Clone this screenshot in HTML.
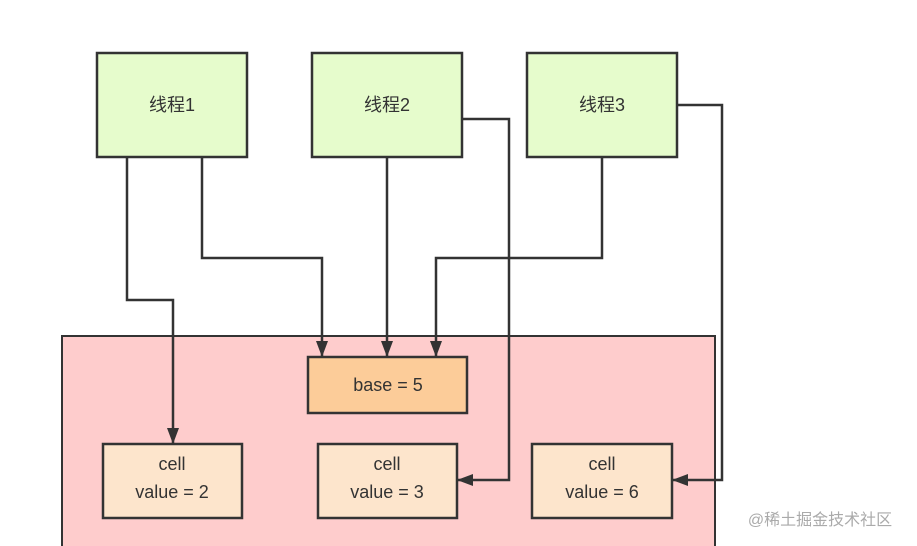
<!DOCTYPE html>
<html><head><meta charset="utf-8"><style>
html,body{margin:0;padding:0;background:#fff;width:917px;height:546px;overflow:hidden}
svg{display:block}
text{font-family:"Liberation Sans","Noto Sans CJK SC",sans-serif;fill:#333;font-size:18px;text-anchor:middle}
</style></head><body>
<svg width="917" height="546" viewBox="0 0 917 546">
<defs><marker id="a" markerWidth="16" markerHeight="12" refX="15" refY="6" orient="auto" markerUnits="userSpaceOnUse"><path d="M0,0 L16,6 L0,12 Z" fill="#333"/></marker></defs>
<rect x="62" y="336" width="653" height="220" fill="#fecccc" stroke="#333" stroke-width="2"/>
<g fill="#e6fccc" stroke="#333" stroke-width="2.5">
<rect x="97" y="53" width="150" height="104"/>
<rect x="312" y="53" width="150" height="104"/>
<rect x="527" y="53" width="150" height="104"/>
</g>
<rect x="308" y="357" width="159" height="56" fill="#fccc99" stroke="#333" stroke-width="2.5"/>
<g fill="#fde5cc" stroke="#333" stroke-width="2.5">
<rect x="103" y="444" width="139" height="74"/>
<rect x="318" y="444" width="139" height="74"/>
<rect x="532" y="444" width="140" height="74"/>
</g>
<g fill="none" stroke="#333" stroke-width="2.5" marker-end="url(#a)">
<path d="M127,157 V300 H173 V443"/>
<path d="M202,157 V258 H322 V356"/>
<path d="M387,157 V356"/>
<path d="M462,119 H509 V480 H458"/>
<path d="M602,157 V258 H436 V356"/>
<path d="M677,105 H722 V480 H673"/>
</g>
<text x="172" y="111">线程1</text>
<text x="387" y="111">线程2</text>
<text x="602" y="111">线程3</text>
<text x="388" y="391">base = 5</text>
<text x="172" y="470">cell</text><text x="172" y="498">value = 2</text>
<text x="387" y="470">cell</text><text x="387" y="498">value = 3</text>
<text x="602" y="470">cell</text><text x="602" y="498">value = 6</text>
<text x="820" y="525" style="fill:#aaa;font-size:16px">@稀土掘金技术社区</text>
</svg>
</body></html>
